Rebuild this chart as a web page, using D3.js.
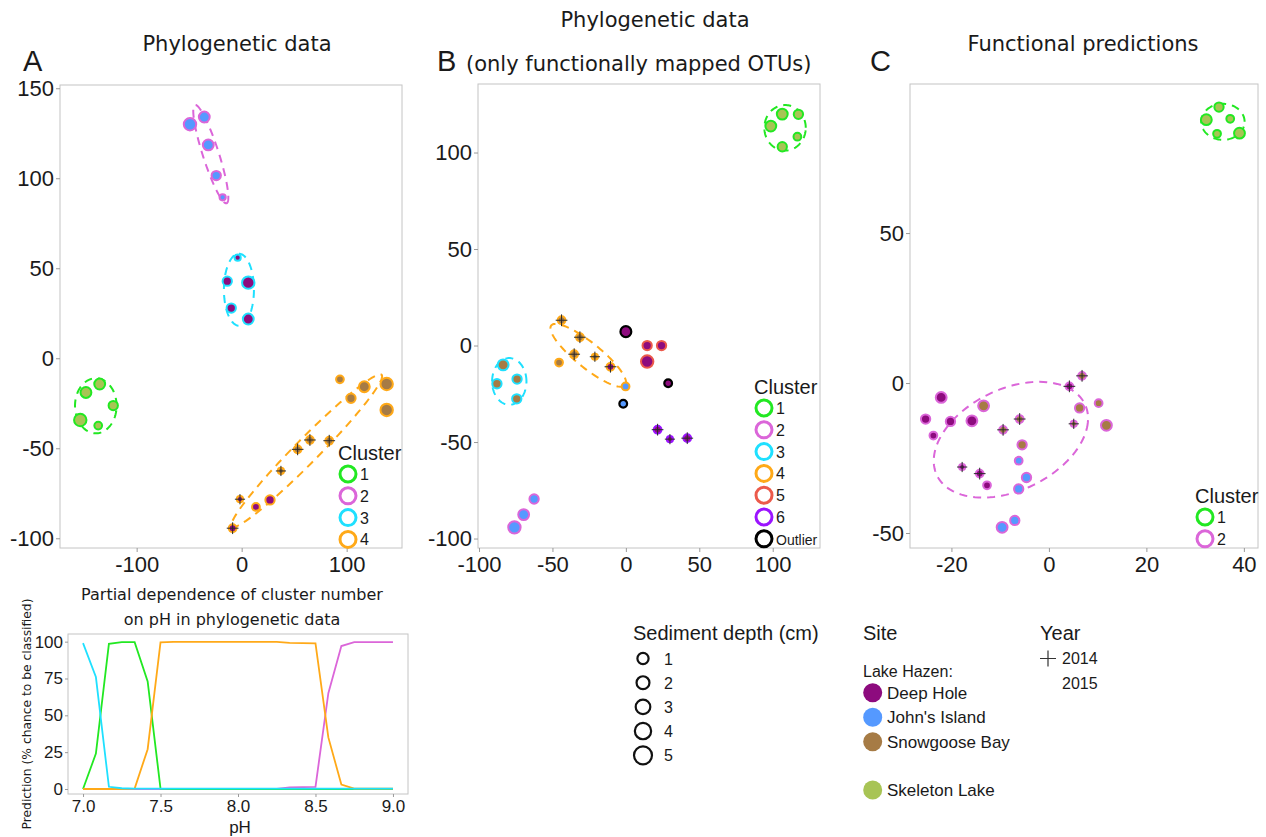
<!DOCTYPE html>
<html lang="en">
<head>
<meta charset="UTF-8">
<title>Clusters</title>
<script src="https://d3js.org/d3.v7.min.js"></script>
<style>
  body { margin: 0; background: #fff; }
  text { fill: #1a1a1a; }
</style>
</head>
<body>
<div id="content"></div>
<script>
// categories
const clusterKeys = ["1", "2", "3", "4", "5", "6", "Outlier"];
const clusterColors = ["#22e822", "#db66d9", "#1fe0ff", "#ffa918", "#ec5a4b", "#9b14ff", "#000000"];
const siteKeys = ["DH", "JI", "SB", "SL"];
const siteNames = ["Deep Hole", "John's Island", "Snowgoose Bay", "Skeleton Lake"];
const siteColors = ["#8d0b7e", "#5599ff", "#a67b45", "#a8c455"];
const depthLevels = [1, 2, 3, 4, 5];
const yearLabels = ["2014", "2015"];

// [x, y, cluster, site, depth, year]
const pointsA = [
    [-49.2, 130, "2", "JI", 5, 2015], [-35.6, 134, "2", "JI", 4, 2015], [-31.8, 118.5, "2", "JI", 4, 2015],
    [-24.2, 101.5, "2", "JI", 3, 2015], [-18.1, 89.4, "2", "JI", 1, 2015],
    [-3.8, 55.9, "3", "DH", 1, 2015], [-13.7, 42.8, "3", "DH", 3, 2015], [6.3, 42, "3", "DH", 5, 2015],
    [-9.9, 27.9, "3", "DH", 3, 2015], [6.3, 21.8, "3", "DH", 4, 2015],
    [-148.3, -19, "1", "SL", 4, 2015], [-135.2, -14.3, "1", "SL", 4, 2015], [-122.3, -26.3, "1", "SL", 3, 2015],
    [-153.7, -34.3, "1", "SL", 5, 2015], [-136.6, -37.4, "1", "SL", 2, 2015],
    [93.6, -11.7, "4", "SB", 2, 2015], [104.1, -22.2, "4", "SB", 3, 2015], [116.8, -15.8, "4", "SB", 4, 2015],
    [138.1, -14.3, "4", "SB", 5, 2015], [138.1, -28.7, "4", "SB", 5, 2015],
    [83.4, -45.8, "4", "SB", 2, 2014], [65, -45.4, "4", "SB", 2, 2014], [53.3, -50.6, "4", "SB", 2, 2014],
    [37.4, -62.6, "4", "SB", 1, 2014], [27, -78.7, "4", "DH", 3, 2015], [13.6, -82.6, "4", "DH", 2, 2015],
    [-1.6, -78.3, "4", "DH", 1, 2014], [-8.6, -94.4, "4", "DH", 2, 2014]
];
const pointsB = [
    [106.5, 119.9, "1", "SL", 4, 2015], [117.5, 119.8, "1", "SL", 3, 2015], [98.7, 113.7, "1", "SL", 4, 2015],
    [116.8, 108.2, "1", "SL", 2, 2015], [106.5, 103, "1", "SL", 3, 2015],
    [-83.6, -10, "3", "SB", 4, 2015], [-74.1, -17.4, "3", "SB", 3, 2015], [-87.8, -19.8, "3", "SB", 3, 2015],
    [-74.3, -27.6, "3", "SB", 3, 2015],
    [-43.8, 13.1, "4", "SB", 2, 2014], [-31.3, 4.3, "4", "SB", 2, 2014], [-35.2, -4.5, "4", "SB", 2, 2014],
    [-21.1, -5.8, "4", "SB", 1, 2014], [-45.5, -8.8, "4", "SB", 2, 2015], [-10.5, -11, "4", "DH", 2, 2014],
    [-0.2, -21.2, "4", "JI", 2, 2015],
    [14.5, 0, "5", "DH", 3, 2015], [24.3, 0, "5", "DH", 3, 2015], [14.5, -8.3, "5", "DH", 5, 2015],
    [0, 7.2, "Outlier", "DH", 4, 2015], [28.8, -19.5, "Outlier", "DH", 2, 2015], [-1.8, -30.2, "Outlier", "JI", 2, 2015],
    [21.6, -43.6, "6", "DH", 2, 2014], [30, -48.5, "6", "DH", 1, 2014], [41.8, -48, "6", "DH", 2, 2014],
    [-62.5, -79.5, "2", "JI", 3, 2015], [-69.6, -87.6, "2", "JI", 4, 2015], [-75.9, -94.2, "2", "JI", 5, 2015]
];
const pointsC = [
    [34.9, 92, "1", "SL", 3, 2015], [32.3, 87.8, "1", "SL", 4, 2015], [37.2, 88.1, "1", "SL", 2, 2015],
    [34.5, 83.1, "1", "SL", 2, 2015], [39.1, 83.3, "1", "SL", 4, 2015],
    [-22.1, -4.8, "2", "DH", 4, 2015], [-25.3, -12, "2", "DH", 3, 2015], [-23.7, -17.5, "2", "DH", 2, 2015],
    [-20.2, -12.8, "2", "DH", 3, 2015], [-15.8, -12.6, "2", "DH", 4, 2015], [-13.4, -7.6, "2", "SB", 4, 2015],
    [-6, -12, "2", "SB", 2, 2014], [-9.4, -15.6, "2", "SB", 2, 2014], [-5.5, -20.6, "2", "SB", 3, 2015],
    [-6.2, -25.9, "2", "JI", 2, 2015], [-4.6, -31.5, "2", "JI", 3, 2015], [-6.2, -35.3, "2", "JI", 3, 2015],
    [-17.8, -28, "2", "DH", 1, 2014], [-14.2, -30.2, "2", "DH", 2, 2014], [-12.7, -34.1, "2", "DH", 2, 2015],
    [-9.6, -48.1, "2", "JI", 4, 2015], [-7, -45.8, "2", "JI", 3, 2015],
    [4.2, -1.1, "2", "DH", 2, 2014], [6.8, 2.4, "2", "SB", 2, 2014], [5.1, -13.6, "2", "SB", 1, 2014],
    [6.3, -8.3, "2", "SB", 3, 2015], [10.2, -6.7, "2", "SB", 2, 2015], [11.8, -14.1, "2", "SB", 4, 2015]
];

// cluster ellipses in data units: centre, first and second half-axis vectors
const ellipsesA = [
    { cluster: "2", c: [-29.4, 113.4], a: [15.05, -27.3], b: [7.25, 1.36] },
    { cluster: "3", c: [-2.6, 38.1], a: [0, 20], b: [14.3, 0] },
    { cluster: "1", c: [-138.9, -26.4], a: [19.8, 0], b: [0, 15.3] },
    { cluster: "4", c: [61.9, -51.4], a: [71.4, 42.2], b: [8.1, -4.7] }
];
const ellipsesB = [
    { cluster: "1", c: [108.4, 112.8], a: [14.1, 0], b: [0, 11.8] },
    { cluster: "3", c: [-79.4, -18.6], a: [11.7, 0], b: [0, 12.1] },
    { cluster: "4", c: [-25.6, -5.1], a: [25.2, -15.5], b: [5.4, 5.0] }
];
const ellipsesC = [
    { cluster: "1", c: [35.7, 87.1], a: [4.45, 0], b: [0, 6.0] },
    { cluster: "2", c: [-7.8, -18.9], a: [15.6, 3.9], b: [2.7, 18.9] }
];

const ticksA = { x: [-100, 0, 100], y: [-100, -50, 0, 50, 100, 150] };
const ticksB = { x: [-100, -50, 0, 50, 100], y: [-100, -50, 0, 50, 100] };
const ticksC = { x: [-20, 0, 20, 40], y: [-50, 0, 50] };

// partial dependence
const phValues = [7.0, 7.083, 7.167, 7.25, 7.333, 7.417, 7.5, 7.583, 7.667, 7.75, 7.833, 7.917, 8.0,
    8.083, 8.167, 8.25, 8.333, 8.417, 8.5, 8.583, 8.667, 8.75, 8.833, 8.917, 9.0];
const probCluster1 = [0, 24, 98.5, 99.7, 99.7, 73, 0.2, 0, 0, 0, 0, 0, 0, 0, 0, 0, 0, 0, 0, 0, 0, 0, 0, 0, 0];
const probCluster2 = [0, 0, 0, 0, 0, 0, 0, 0, 0, 0, 0, 0, 0, 0, 0, 0, 1, 1.3, 1.5, 65, 97, 99.7, 99.7, 99.7, 99.7];
const probCluster3 = [99, 76, 1.5, 0.5, 0.3, 0.3, 0.2, 0.2, 0.2, 0.2, 0.2, 0.2, 0.2, 0.2, 0.2, 0.2, 0.2, 0.2, 0.2, 0.2, 0.2, 0.2, 0.2, 0.2, 0.2];
const probCluster4 = [0, 0, 0, 0, 0.3, 27, 99.5, 99.8, 99.8, 99.9, 99.9, 99.9, 99.9, 99.9, 99.9, 99.8, 99.2, 99, 98.8, 35, 3, 0.3, 0.3, 0.3, 0.3];
const phTicks = [7.0, 7.5, 8.0, 8.5, 9.0];
const probTicks = [0, 25, 50, 75, 100];

const clusterColor = d3.scaleOrdinal(clusterKeys, clusterColors);
const siteColor = d3.scaleOrdinal(siteKeys, siteColors);
const depthRadius = d3.scaleLinear([1, 5], [3.1, 6.2]);
const legendRadius = d3.scaleLinear([1, 5], [5.6, 9]);

const arial = '"Liberation Sans", Arial, sans-serif';
const verdana = '"DejaVu Sans", Verdana, sans-serif';

const svg = d3.select("#content")
    .append("svg")
    .attr("width", 1266)
    .attr("height", 837)
    .style("display", "block")
    .style("background", "#fff");

function styleAxis(ax, size) {
    ax.select(".domain").remove();
    ax.selectAll(".tick line").attr("stroke", "#9a9a9a");
    ax.attr("font-size", size).attr("font-family", arial);
    ax.selectAll(".tick text").attr("fill", "#1a1a1a");
}

function scatterPanel(o) {
    const x = d3.scaleLinear(o.xDomain, [o.left, o.left + o.width]);
    const y = d3.scaleLinear(o.yDomain, [o.top + o.height, o.top]);
    const g = svg.append("g");

    g.append("rect")
        .attr("x", o.left).attr("y", o.top)
        .attr("width", o.width).attr("height", o.height)
        .attr("fill", "none").attr("stroke", "#c4c4c4");

    const xa = g.append("g")
        .attr("transform", "translate(0," + (o.top + o.height) + ")")
        .call(d3.axisBottom(x).tickValues(o.ticks.x).tickSize(4).tickPadding(4).tickFormat(d => String(d)));
    styleAxis(xa, 22);
    const ya = g.append("g")
        .attr("transform", "translate(" + o.left + ",0)")
        .call(d3.axisLeft(y).tickValues(o.ticks.y).tickSize(4).tickPadding(2).tickFormat(d => String(d)));
    styleAxis(ya, 22);

    const line = d3.line().curve(d3.curveLinearClosed);
    o.ellipses.forEach(e => {
        const pts = d3.range(0, 360, 3).map(deg => {
            const t = deg * Math.PI / 180;
            return [x(e.c[0] + Math.cos(t) * e.a[0] + Math.sin(t) * e.b[0]),
                    y(e.c[1] + Math.cos(t) * e.a[1] + Math.sin(t) * e.b[1])];
        });
        g.append("path")
            .attr("d", line(pts))
            .attr("fill", "none")
            .attr("stroke", clusterColor(e.cluster))
            .attr("stroke-width", 2)
            .attr("stroke-dasharray", "8,6");
    });

    const pt = g.selectAll(".pt")
        .data(o.points)
        .enter().append("g")
        .attr("class", "pt")
        .attr("transform", d => "translate(" + x(d[0]) + "," + y(d[1]) + ")");
    pt.append("circle")
        .attr("r", d => depthRadius(d[4]))
        .attr("fill", d => siteColor(d[3]))
        .attr("stroke", d => clusterColor(d[2]))
        .attr("stroke-width", d => d[2] === "Outlier" ? 2.2 : 2);
    pt.filter(d => d[5] === 2014).append("path")
        .attr("d", d => {
            const s = depthRadius(d[4]) + 2;
            return "M" + (-s) + ",0H" + s + "M0," + (-s) + "V" + s;
        })
        .attr("stroke", "#2a2a2a")
        .attr("stroke-width", 1);

    // in-panel cluster legend
    const lg = g.append("g");
    lg.append("text")
        .attr("x", o.legend.x).attr("y", o.legend.y)
        .attr("font-family", arial).attr("font-size", 20)
        .text("Cluster");
    o.legend.keys.forEach((k, i) => {
        const cy = o.legend.y + 14 + i * 21.8;
        lg.append("circle")
            .attr("cx", o.legend.x + 10).attr("cy", cy).attr("r", 8)
            .attr("fill", "#fff")
            .attr("stroke", clusterColor(k)).attr("stroke-width", 3);
        lg.append("text")
            .attr("x", o.legend.x + 22).attr("y", cy + 6)
            .attr("font-family", arial)
            .attr("font-size", k === "Outlier" ? 14 : 16)
            .text(k);
    });
}

scatterPanel({
    left: 60, top: 85, width: 342, height: 463,
    xDomain: [-173, 152.7], yDomain: [-105.4, 151.8],
    ticks: ticksA, points: pointsA, ellipses: ellipsesA,
    legend: { x: 338, y: 460, keys: ["1", "2", "3", "4"] }
});
scatterPanel({
    left: 478, top: 84, width: 342, height: 464,
    xDomain: [-100.7, 132.2], yDomain: [-104.9, 135.5],
    ticks: ticksB, points: pointsB, ellipses: ellipsesB,
    legend: { x: 754, y: 394, keys: ["1", "2", "3", "4", "5", "6", "Outlier"] }
});
scatterPanel({
    left: 910, top: 84, width: 348, height: 464,
    xDomain: [-28.5, 42.9], yDomain: [-55, 99.7],
    ticks: ticksC, points: pointsC, ellipses: ellipsesC,
    legend: { x: 1195, y: 503, keys: ["1", "2"] }
});

// headings
function label(x, y, txt, size, family, anchor) {
    svg.append("text")
        .attr("x", x).attr("y", y)
        .attr("font-size", size).attr("font-family", family)
        .attr("text-anchor", anchor || "start")
        .text(txt);
}
label(23, 71, "A", 29, arial);
label(237, 51, "Phylogenetic data", 21, verdana, "middle");
label(655, 27, "Phylogenetic data", 21, verdana, "middle");
label(437, 71, "B", 29, arial);
label(466, 71, "(only functionally mapped OTUs)", 21, verdana);
label(870, 71, "C", 29, arial);
label(1083, 51, "Functional predictions", 21, verdana, "middle");

// partial dependence chart
const px = d3.scaleLinear([6.903, 9.097], [68, 408]);
const py = d3.scaleLinear([-3.4, 105.2], [794, 634]);
const pd = svg.append("g");
pd.append("rect")
    .attr("x", 68).attr("y", 634).attr("width", 340).attr("height", 160)
    .attr("fill", "none").attr("stroke", "#c4c4c4");
const pxa = pd.append("g").attr("transform", "translate(0,794)")
    .call(d3.axisBottom(px).tickValues(phTicks).tickSize(3).tickPadding(3).tickFormat(d3.format(".1f")));
styleAxis(pxa, 17);
const pya = pd.append("g").attr("transform", "translate(68,0)")
    .call(d3.axisLeft(py).tickValues(probTicks).tickSize(3).tickPadding(2));
styleAxis(pya, 17);

const series = [
    { cluster: "2", values: probCluster2 },
    { cluster: "1", values: probCluster1 },
    { cluster: "4", values: probCluster4 },
    { cluster: "3", values: probCluster3 }
];
const pline = d3.line().x((d, i) => px(phValues[i])).y(d => py(d));
series.forEach(s => {
    pd.append("path")
        .attr("d", pline(s.values))
        .attr("fill", "none")
        .attr("stroke", clusterColor(s.cluster))
        .attr("stroke-width", 1.8);
});
label(232, 600, "Partial dependence of cluster number", 16, verdana, "middle");
label(232, 625, "on pH in phylogenetic data", 16, verdana, "middle");
label(240, 833, "pH", 17, arial, "middle");
svg.append("text")
    .attr("transform", "translate(31,714) rotate(-90)")
    .attr("text-anchor", "middle")
    .attr("font-family", verdana)
    .attr("font-size", 12.3)
    .text("Prediction (% chance to be classified)");

// sediment depth legend
label(633, 640, "Sediment depth (cm)", 20, arial);
depthLevels.forEach((d, i) => {
    const cy = 658.5 + i * 24.2;
    svg.append("circle")
        .attr("cx", 643).attr("cy", cy).attr("r", legendRadius(d))
        .attr("fill", "none").attr("stroke", "#111").attr("stroke-width", 2.2);
    label(664, cy + 6, String(d), 16, arial);
});

// site legend
label(863, 640, "Site", 20, arial);
label(863, 677, "Lake Hazen:", 16, arial);
const siteY = [692.7, 717.3, 741.7, 790];
siteKeys.forEach((k, i) => {
    svg.append("circle")
        .attr("cx", 872.7).attr("cy", siteY[i]).attr("r", 9.5)
        .attr("fill", siteColor(k));
    label(887, siteY[i] + 6, siteNames[i], 17, arial);
});

// year legend
label(1040, 640, "Year", 20, arial);
svg.append("path")
    .attr("d", "M1040,658.5H1056M1048,650.5V666.5")
    .attr("stroke", "#333").attr("stroke-width", 1.2);
yearLabels.forEach((yv, i) => {
    label(1062, 664 + i * 24.5, yv, 16, arial);
});
</script>
</body>
</html>
